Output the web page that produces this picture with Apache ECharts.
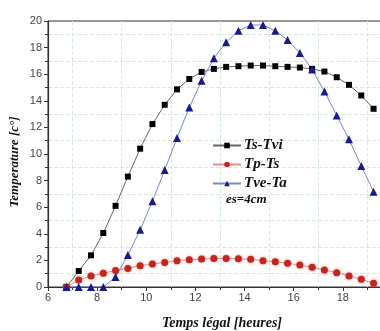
<!DOCTYPE html>
<html><head><meta charset="utf-8">
<script src="https://cdn.jsdelivr.net/npm/echarts@6/dist/echarts.min.js"></script>
<style>html,body{margin:0;padding:0;background:#fff}#c{width:380px;height:331px}</style>
</head><body><div id="c"></div>
<script>
var hours = [6.75,7.25,7.75,8.25,8.75,9.25,9.75,10.25,10.75,11.25,11.75,12.25,12.75,13.25,13.75,14.25,14.75,15.25,15.75,16.25,16.75,17.25,17.75,18.25,18.75,19.25];
var tsTvi = [0,1.2,2.38,4.06,6.1,8.3,10.4,12.25,13.7,14.86,15.64,16.17,16.4,16.55,16.6,16.65,16.65,16.6,16.55,16.5,16.4,16.2,15.77,15.2,14.4,13.4];
var tpTs = [0,0.52,0.83,1.03,1.25,1.4,1.6,1.73,1.85,1.98,2.05,2.1,2.15,2.15,2.12,2.08,1.98,1.9,1.78,1.65,1.48,1.28,1.08,0.83,0.58,0.28];
var tveTa = [0,0,0,0,0.75,2.4,4.3,6.45,8.8,11.2,13.5,15.5,17.2,18.4,19.27,19.7,19.7,19.27,18.57,17.6,16.36,14.7,12.9,11.1,9.1,7.17];
var seriesNames = ['Ts-Tvi','Tp-Ts','Tve-Ta'];
var xTitle = 'Temps légal [heures]';
var yTitle = 'Temperature [c°]';
var note = 'es=4cm';

function pairs(ys){ return hours.map(function(h,i){ return [h, ys[i]]; }); }
var serif = '"Liberation Serif","DejaVu Serif",serif';
var chart = echarts.init(document.getElementById('c'));
var gridLine = {show:true, lineStyle:{color:'#d6ebd9', type:'dashed', width:1}};
chart.setOption({
  animation:false,
  grid:{left:48, right:-12, top:21, bottom:44, show:true, borderColor:'#333', borderWidth:1, containLabel:false, outerBoundsMode:'none'},
  xAxis:{type:'value', min:6, max:20, interval:2,
    axisLine:{show:true, lineStyle:{color:'#333', width:1.2}},
    axisTick:{show:true, length:4, lineStyle:{color:'#333'}},
    minorTick:{show:true, splitNumber:2, length:3, lineStyle:{color:'#333'}},
    splitLine:{show:false}, minorSplitLine:gridLine,
    axisLabel:{color:'#444', fontSize:11, fontFamily:'"Liberation Sans",Arial,sans-serif', margin:5}},
  yAxis:{type:'value', min:0, max:20, interval:2,
    axisLine:{show:true, lineStyle:{color:'#333', width:1.2}},
    axisTick:{show:true, length:4, lineStyle:{color:'#333'}},
    minorTick:{show:true, splitNumber:2, length:3, lineStyle:{color:'#333'}},
    splitLine:{show:false}, minorSplitLine:gridLine,
    axisLabel:{color:'#444', fontSize:11, fontFamily:'"Liberation Sans",Arial,sans-serif', margin:6}},
  legend:{orient:'vertical', left:207, top:133, itemGap:4, itemWidth:28, itemHeight:7,
    data:seriesNames,
    textStyle:{fontFamily:serif, fontStyle:'italic', fontWeight:'bold', fontSize:15, color:'#111', padding:[0,0,0,-2]}},
  graphic:[
    {type:'text', left:226, top:193, style:{text:note, font:'italic bold 13px '+serif, fill:'#111'}},
    {type:'text', x:222, y:323, style:{text:xTitle, font:'italic bold 14px '+serif, fill:'#111', align:'center', verticalAlign:'middle'}},
    {type:'text', x:15, y:162, rotation:Math.PI/2, style:{text:yTitle, font:'italic bold 13px '+serif, fill:'#111', align:'center', verticalAlign:'middle'}}
  ],
  series:[
    {name:seriesNames[0], type:'line', data:pairs(tsTvi), symbol:'rect', symbolSize:6,
      lineStyle:{color:'#666', width:1}, itemStyle:{color:'#000'}},
    {name:seriesNames[1], type:'line', data:pairs(tpTs), symbol:'circle', symbolSize:7,
      lineStyle:{color:'#e29090', width:1}, itemStyle:{color:'#c0281e', shadowBlur:3, shadowColor:'rgba(220,60,60,0.6)'}},
    {name:seriesNames[2], type:'line', data:pairs(tveTa), symbol:'triangle', symbolSize:8,
      lineStyle:{color:'#7c88c8', width:1}, itemStyle:{color:'#1a1a8c'}}
  ]
});
</script></body></html>
